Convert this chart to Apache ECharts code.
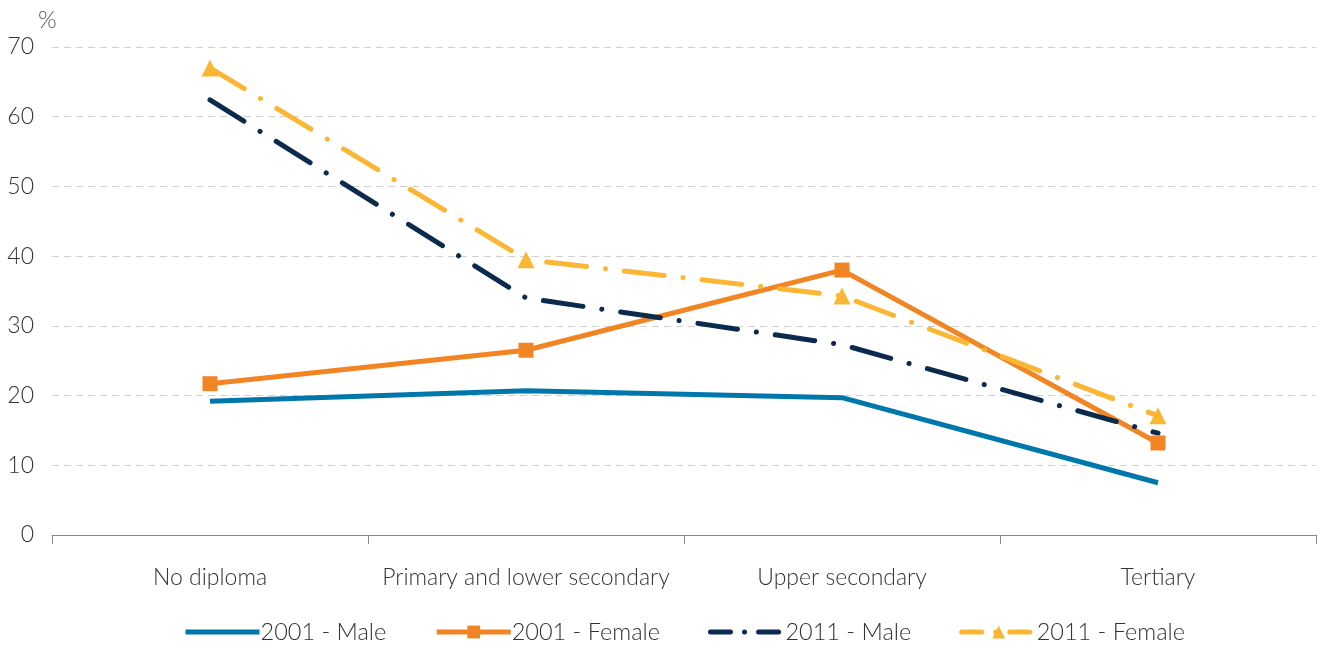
<!DOCTYPE html>
<html>
<head>
<meta charset="utf-8">
<script src="https://cdn.jsdelivr.net/npm/echarts@6/dist/echarts.min.js"></script>
<style>
  html, body { margin: 0; padding: 0; background: #fff; }
  #chart { width: 1326px; height: 648px; }
</style>
</head>
<body>
<div id="chart"></div>
<script>
// categories and values
var categories = ['No diploma', 'Primary and lower secondary', 'Upper secondary', 'Tertiary'];
var male2001 = [19.2, 20.7, 19.7, 7.5];
var female2001 = [21.7, 26.5, 38.0, 13.2];
var male2011 = [62.4, 34.0, 27.3, 14.6];
var female2011 = [67.0, 39.5, 34.3, 17.1];

var font = 'Lato, "Open Sans", sans-serif';
var dashDot = [40, 19, 0.1, 19];
var legendDash = [20, 14, 0.1, 14];

var myChart = echarts.init(document.getElementById('chart'));
var options = {
    animation: false,
    textStyle: { fontFamily: font },
    grid: { left: 52, right: 10, top: 47, bottom: 113 },
    graphic: [{
        type: 'text', left: 38, top: 8,
        style: { text: '%', fontSize: 24, fill: '#555', fontFamily: font, fontWeight: 300 }
    }],
    legend: {
        bottom: -1, left: 178, itemWidth: 74, itemHeight: 16, itemGap: 48,
        lineStyle: { width: 5 },
        textStyle: { fontSize: 23.5, color: '#333', fontWeight: 300, padding: [0, 0, 0, -4] },
        data: [
            { name: '2001 - Male', itemStyle: { opacity: 0 } },
            '2001 - Female',
            { name: '2011 - Male', itemStyle: { opacity: 0 }, lineStyle: { type: legendDash, cap: 'round' } },
            { name: '2011 - Female', lineStyle: { type: legendDash, cap: 'round' } }
        ]
    },
    xAxis: {
        type: 'category', data: categories, boundaryGap: true,
        axisLine: { lineStyle: { color: '#888', width: 1 } },
        axisTick: { show: true, interval: 0, length: 9, lineStyle: { color: '#888' } },
        axisLabel: { interval: 0, fontSize: 23, color: '#333', fontWeight: 300, margin: 31 }
    },
    yAxis: {
        type: 'value', min: 0, max: 70, interval: 10,
        axisLine: { show: false }, axisTick: { show: false },
        axisLabel: { fontSize: 23, color: '#333', fontWeight: 300, margin: 18 },
        splitLine: { lineStyle: { color: '#d0d0d0', type: [7, 5], width: 1 } }
    },
    series: [
        {
            name: '2001 - Male', type: 'line', data: male2001, symbol: 'none',
            lineStyle: { color: '#0077aa', width: 5 }, itemStyle: { color: '#0077aa' }
        },
        {
            name: '2001 - Female', type: 'line', data: female2001,
            symbol: 'rect', symbolSize: 15,
            lineStyle: { color: '#f28523', width: 5 }, itemStyle: { color: '#f28523' }
        },
        {
            name: '2011 - Male', type: 'line', data: male2011, symbol: 'none',
            lineStyle: { color: '#0b2a4e', width: 5, type: dashDot, cap: 'round' },
            itemStyle: { color: '#0b2a4e' }
        },
        {
            name: '2011 - Female', type: 'line', data: female2011,
            symbol: 'triangle', symbolSize: 17,
            lineStyle: { color: '#fbb733', width: 5, type: dashDot, cap: 'round' },
            itemStyle: { color: '#fbb733' }
        }
    ]
};
myChart.setOption(options);
window.addEventListener('resize', function () { myChart.resize(); });
</script>
</body>
</html>
